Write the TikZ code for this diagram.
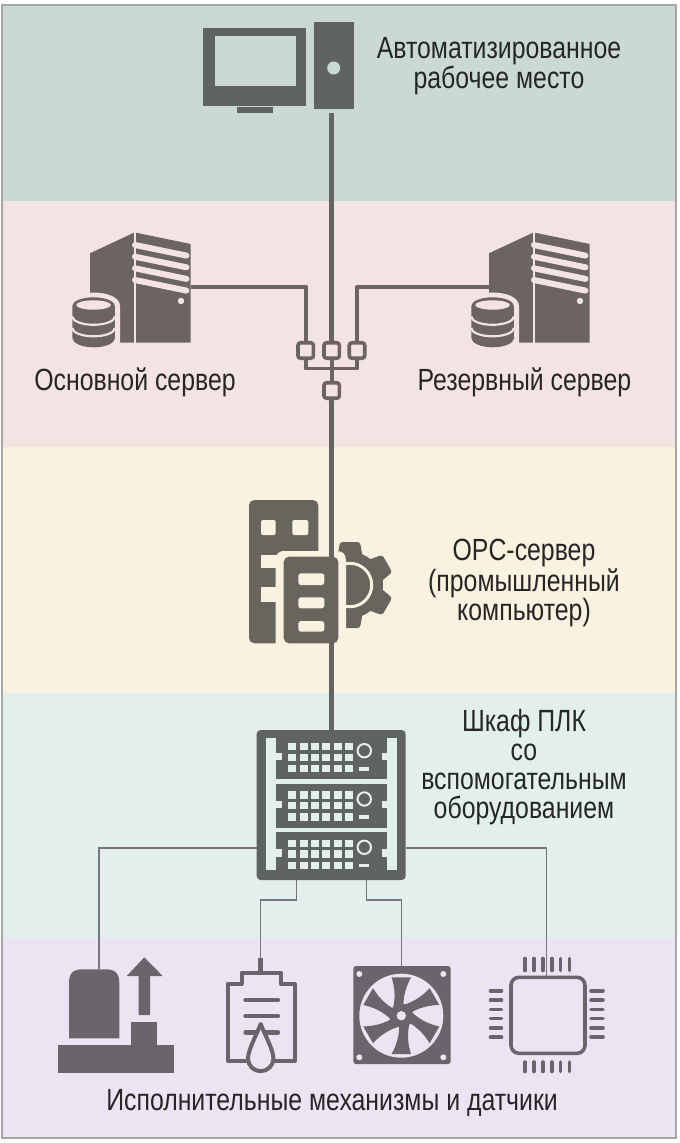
\documentclass[tikz,border=0pt]{standalone}
\usepackage{fontspec}
\newfontfamily\labelfont[FakeStretch=.81]{Liberation Sans}
\definecolor{bandpc}{RGB}{203,217,212}
\definecolor{bandsrv}{RGB}{244,227,227}
\definecolor{bandopc}{RGB}{250,242,224}
\definecolor{bandplc}{RGB}{226,239,237}
\definecolor{bandio}{RGB}{236,228,242}
\definecolor{inkpc}{RGB}{95,100,98}
\definecolor{inksrv}{RGB}{107,100,99}
\definecolor{inkopc}{RGB}{104,101,94}
\definecolor{inkio}{RGB}{106,101,107}
\definecolor{inkline}{RGB}{102,100,98}
\tikzset{
    caption/.style={font=\labelfont\fontsize{23}{21.6}\selectfont, text=black!85, inner sep=0pt, align=center},
    mainline/.style={draw=inkline, line width=3.4pt, line join=round},
    srvline/.style={draw=inksrv, line width=2.8pt, line join=round},
    thinline/.style={draw=inkio!90, line width=.8pt},
    swbox/.style={draw=inksrv, fill=bandsrv, line width=2.7pt, rounded corners=2pt, minimum size=11.6pt, inner sep=0pt},
    pinline/.style={draw=inkio, line width=2.7pt, line cap=round}
}
\begin{document}
\begin{tikzpicture}[x=.75pt, y=-.75pt]
    \useasboundingbox (0,0) rectangle (680,1143);

    \fill[black!35] (1,4) rectangle (677,1139);
    \fill[bandpc] (3,6) rectangle (675,201);
    \fill[bandsrv] (3,201) rectangle (675,447);
    \fill[bandopc] (3,447) rectangle (675,693);
    \fill[bandplc] (3,693) rectangle (675,938);
    \fill[bandio] (3,938) rectangle (675,1137);

    \coordinate (tower) at (331.7,113);
    \coordinate (srvmain) at (190.7,286.7);
    \coordinate (srvback) at (489,286.7);
    \coordinate (bus) at (331.7,368.5);
    \coordinate (racktop) at (331.7,730);
    \coordinate (rackw) at (256.7,848);
    \coordinate (racke) at (405.7,848);
    \coordinate (racksa) at (296.7,880);
    \coordinate (racksb) at (366.7,880);
    \coordinate (motor) at (99,969.3);
    \coordinate (sensor) at (260.7,958);
    \coordinate (fan) at (401.7,966);
    \coordinate (chip) at (546.7,977);

    \node[swbox] (swmain) at (305.7,350.5) {};
    \node[swbox] (swtop) at (331.7,350.5) {};
    \node[swbox] (swback) at (357,350.5) {};
    \node[swbox] (swdown) at (331.7,390.5) {};

    \draw[mainline] (tower) -- (swtop.north);
    \draw[srvline] (srvmain) -| (swmain.north);
    \draw[srvline] (srvback) -| (swback.north);
    \draw[srvline] (swmain.south) |- (bus);
    \draw[srvline] (swback.south) |- (bus);
    \draw[srvline] (swtop.south) -- (swdown.north);

    \draw[thinline] (rackw) -| (motor);
    \draw[thinline] (racke) -| (chip);
    \draw[thinline] (racksa) -- ++(0,20) -| (sensor);
    \draw[thinline] (racksb) -- ++(0,20) -| (fan);

    % workstation
    \fill[inkpc] (203.3,28) rectangle (306.3,105.7);
    \fill[bandpc] (215.3,35.7) rectangle (295.7,86.3);
    \fill[inkpc] (237.3,107.3) rectangle (273.3,113.3);
    \fill[inkpc] (314,21.7) rectangle (354.3,109.3);
    \fill[bandpc] (333.7,68) circle (6.5);

    % servers
    \foreach \dx in {0,399} {
        \begin{scope}[shift={(\dx,0)}]
            \fill[inksrv] (90,253.3) -- (134,232.7) -- (134,342.7) -- (90,342.7) -- cycle;
            \fill[inksrv] (136,232.7) -- (190.7,244) -- (190.7,342.7) -- (136,342.7) -- cycle;
            \foreach \y in {245,256.7,268.3,280}
                \draw[bandsrv, line width=4.5pt, line cap=round] (135,\y) -- (186.5,\y+10.6);
            \fill[bandsrv] (134,232) rectangle (136,343);
            \fill[bandsrv] (181,301) circle (3.2);
            \fill[bandsrv] (67,306) .. controls (67,288) and (120,288) .. (120,306) -- (120,343) -- (67,343) -- cycle;
            \fill[inksrv] (72.3,306) arc (180:360:21.3 and 8.7) -- (115,338) arc (0:180:21.3 and 9.3) -- cycle;
            \fill[bandsrv] (93.6,305) ellipse (17.3 and 4.7);
            \foreach \y in {316.5,328}
                \draw[bandsrv, line width=1.6pt] (72.3,\y) arc (180:0:21.3 and 8.3);
        \end{scope}
    }

    % opc server
    \fill[inkopc] (350,585) circle (33);
    \foreach \a in {-90,-30,...,210}
        \fill[inkopc, rotate around={\a:(350,585)}, rounded corners=2pt] (376,572) -- (393,575) -- (393,595) -- (376,598) -- cycle;
    \draw[bandopc, line width=2.2pt] (350,585) circle (21.7);
    \fill[inkopc, rounded corners=4pt] (249,500) rectangle (318.3,643.3);
    \fill[bandopc, rounded corners=1.5pt] (261,520) rectangle (275.7,535);
    \fill[bandopc, rounded corners=1.5pt] (292.3,520) rectangle (308.3,535);
    \fill[bandopc] (261,555) rectangle (280,568.3);
    \fill[bandopc] (261,586.7) rectangle (280,601.7);
    \fill[bandopc] (275.7,644) -- (275.7,561) .. controls (275.7,554) and (278,551) .. (285,551) -- (336,551) .. controls (343,551) and (346,554) .. (346,561) -- (346,644) -- cycle;
    \draw[mainline] (swdown.south) -- (racktop);
    \fill[inkopc, rounded corners=4pt] (283.7,556.7) -- (338.3,556.7) -- (338.3,643.3) -- (283.7,643.3) -- cycle;
    \foreach \y/\h in {573.3/585,597.3/608.3,621/631.7}
        \fill[bandopc, rounded corners=2pt] (298.3,\y) rectangle (324.3,\h);

    % rack
    \fill[inkpc, rounded corners=3pt] (256.7,730) rectangle (405.7,880);
    \fill[bandplc] (266,738.3) rectangle (276,870);
    \fill[bandplc] (387.3,738.3) rectangle (397.3,870);
    \foreach \y in {779.3,827.5}
        \fill[bandplc] (276,\y) rectangle (387.3,\y+4.2);
    \foreach \y in {0,48.3,96.6} {
        \fill[bandplc] (276,752.5+\y) rectangle (281.5,760+\y);
        \fill[bandplc] (381.7,752.5+\y) rectangle (387.3,760+\y);
        \foreach \i in {0,...,5}
            \foreach \j in {0,10.7,22} {
                \fill[bandplc] (288.3+11.3*\i,743+\y+\j) rectangle ++(8,7.4);
            }
        \draw[bandplc, line width=1.5pt] (364.3,750.7+\y) circle (6.7);
        \fill[bandplc] (359.3,767+\y) rectangle (369.3,770.7+\y);
    }

    % actuator
    \fill[inkio] (58.3,1045) rectangle (174,1072.7);
    \fill[inkio] (130.7,1022.3) rectangle (156.7,1046);
    \fill[inkio] (69,1038.3) -- (69,983) .. controls (69,973) and (73,969.3) .. (83,969.3) -- (105,969.3) .. controls (115,969.3) and (119.3,973) .. (119.3,983) -- (119.3,1038.3) -- cycle;
    \fill[inkio] (138.7,1015) -- (138.7,976) -- (126.7,976) -- (144.3,957.3) -- (162.7,976) -- (150,976) -- (150,1015) -- cycle;

    % sensor
    \draw[inkio, line width=3pt, line join=round] (247,1060.7) -- (227.7,1060.7) -- (227.7,984) -- (241.7,984) -- (241.7,972.7) -- (280.7,972.7) -- (280.7,984) -- (295,984) -- (295,1060.7) -- (274,1060.7);
    \fill[inkio] (258.2,958) rectangle (263.2,972);
    \foreach \y in {1000,1016,1032.3}
        \draw[pinline, line width=3.3pt] (245.5,\y) -- (278,\y);
    \draw[inkio, fill=bandio, line width=3pt, line join=round] (260.7,1024) .. controls (256,1036) and (248,1050) .. (248,1058.5) arc (180:0:12.7) .. controls (273.4,1050) and (265.4,1036) .. (260.7,1024) -- cycle;

    % fan
    \fill[inkio, rounded corners=2pt] (353.3,966) rectangle (450.7,1064);
    \fill[bandio] (401.3,1015.7) circle (42);
    \foreach \x/\y in {359.3/974,443.3/974,359.3/1057.3,443.3/1057.3}
        \fill[bandio] (\x,\y) circle (3);
    \foreach \a in {0,60,...,300}
        \fill[inkio, rotate around={\a:(401.3,1015.7)}] (391.6,977.4) -- (411,977.4) .. controls (404,990) and (402.5,1002) .. (404,1010) -- (393,1008.4) .. controls (395.5,998) and (395,988) .. (391.6,977.4) -- cycle;
    \fill[inkio] (401.3,1015.7) circle (12);
    \fill[bandio] (401.3,1015.7) circle (4.7);

    % chip
    \draw[inkio, line width=2.7pt, rounded corners=6pt] (511,977.3) rectangle (585,1053.3);
    \foreach \i in {0,...,5} {
        \draw[pinline] (525+8.9*\i,958.5) -- (525+8.9*\i,970.5);
        \draw[pinline] (525+8.9*\i,1062) -- (525+8.9*\i,1071.5);
        \draw[pinline] (490.5,991+9.2*\i) -- (501.5,991+9.2*\i);
        \draw[pinline] (591,991+9.2*\i) -- (603,991+9.2*\i);
    }

    \node[caption] (labpc) at (499,66) {Автоматизированное\\рабочее место};
    \node[caption] (labmain) at (135,382) {Основной сервер};
    \node[caption] (labback) at (524.5,382) {Резервный сервер};
    \node[caption] (labopc) at (524,583) {OPC-сервер\\(промышленный\\компьютер)};
    \node[caption] (labplc) at (524,767) {Шкаф ПЛК\\со\\вспомогательным\\оборудованием};
    \node[caption] (labio) at (332,1103) {Исполнительные механизмы и датчики};

\end{tikzpicture}
\end{document}
